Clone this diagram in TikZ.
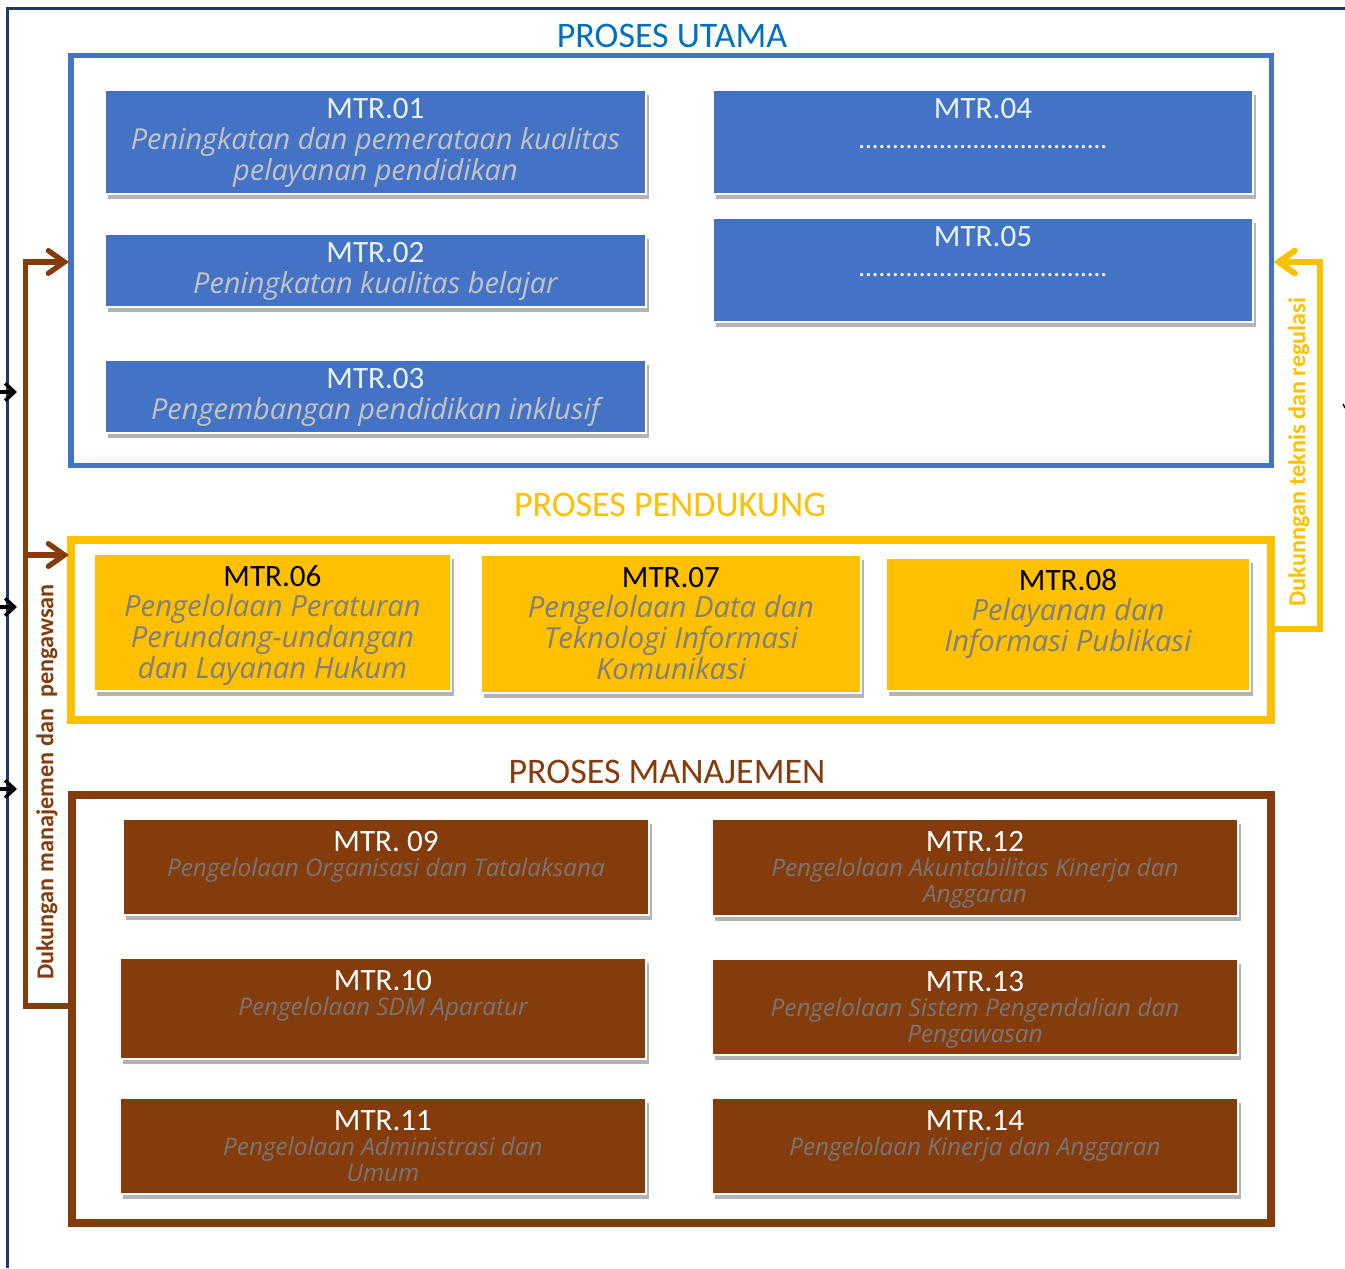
\documentclass[tikz,border=0pt]{standalone}
\usepackage{fontspec}
\setmainfont{Carlito}
\newfontfamily\subfam{Open Sans}
\usetikzlibrary{arrows.meta,shadows,fit}
\definecolor{bblue}{HTML}{4472C4}
\definecolor{hblue}{HTML}{0070C0}
\definecolor{gold}{HTML}{FFC000}
\definecolor{rust}{HTML}{843C0C}
\definecolor{navy}{HTML}{1F3864}
\definecolor{paleblue}{HTML}{E6F4FF}
\definecolor{lgray}{HTML}{C3C3C3}
\definecolor{mgray}{HTML}{7F7F7F}
\definecolor{dgray}{HTML}{7A7575}
\begin{document}
\begin{tikzpicture}[x=0.75pt,y=-0.75pt,
  boxbase/.style={inner sep=0pt, outer sep=0pt, draw=white, line width=0.8pt,
    drop shadow={shadow xshift=2.5pt, shadow yshift=-4pt, opacity=0.4, fill=black!75}},
  bluebox/.style={boxbase, fill=bblue},
  goldbox/.style={boxbase, fill=gold},
  rustbox/.style={boxbase, fill=rust},
  framebox/.style={inner sep=0pt, outer sep=0pt, fill=none},
  ttl/.style={anchor=base, inner sep=0pt, font=\fontsize{23.3}{28}\selectfont},
  ttlB/.style={ttl, text=paleblue},
  ttlG/.style={ttl, text=black},
  ttlR/.style={ttl, text=white},
  subB/.style={anchor=base, inner sep=0pt, align=center, text=lgray, font=\subfam\itshape\fontsize{21.7}{23.25}\selectfont},
  subG/.style={anchor=base, inner sep=0pt, align=center, text=mgray, font=\subfam\itshape\fontsize{21.9}{22.9}\selectfont},
  subR/.style={anchor=base, inner sep=0pt, align=center, text=dgray, font=\subfam\itshape\fontsize{18.2}{19.5}\selectfont},
  dots/.style={anchor=base, inner sep=0pt, text=white, font=\fontsize{20}{24}\selectfont},
  head/.style={anchor=base, inner sep=0pt, font=\fontsize{27}{32}\selectfont},
  side/.style={rotate=90, inner sep=0pt, font=\bfseries\fontsize{18.2}{21}\selectfont},
  brownline/.style={draw=rust, line width=4pt, line join=miter},
  goldline/.style={draw=gold, line width=4.6pt, line join=miter},
  btip/.style={-{Straight Barb[length=12pt,width=17pt,line cap=round]}, shorten >=1.5pt},
  ktip/.style={-{Straight Barb[length=7pt,width=13pt]}},
]
\useasboundingbox (0,0) rectangle (1345,1268);

% outer navy lines
\coordinate (nTop) at (1345,8.5);
\coordinate (nCorner) at (7.5,8.5);
\coordinate (nBot) at (7.5,1268);
\draw[navy, line width=1.8pt] (nBot) -- (nCorner) -- (nTop);

% incoming black arrows at left edge
\coordinate (k1s) at (-6,392);  \coordinate (k1e) at (17,392);
\coordinate (k2s) at (-6,607);  \coordinate (k2e) at (17,607);
\coordinate (k3s) at (-6,789);  \coordinate (k3e) at (17,789);
\draw[black, line width=2.6pt, ktip] (k1s) -- (k1e);
\draw[black, line width=2.6pt, ktip] (k2s) -- (k2e);
\draw[black, line width=2.6pt, ktip] (k3s) -- (k3e);
\coordinate (tk1) at (1343,404); \coordinate (tk2) at (1345,408);
\draw[black, line width=1pt] (tk1) -- (tk2);

% frames
\node[framebox, draw=bblue, line width=3.8pt, fit={(71,55.5)(1271.5,465.5)}] (fU) {};
\node[framebox, draw=gold, line width=6pt, fit={(71,540)(1271,719.5)}] (fP) {};
\node[framebox, draw=rust, line width=6pt, fit={(71.5,794.5)(1271,1223)}] (fM) {};

% headers
\node[head, text=hblue] (hU) at (672,47.5) {PROSES UTAMA};
\node[head, text=gold] (hP) at (670,516.5) {PROSES PENDUKUNG};
\node[head, text=rust] (hM) at (667,783.5) {PROSES MANAJEMEN};

% connectors
\coordinate (bx) at (25.5,600);
\coordinate (by) at (1320,450);
\draw[brownline, btip] (fM.west |- 0,1006) -| (bx) |- (fU.west |- 0,262);
\draw[brownline, btip] (bx |- 0,555) -- (fP.west |- 0,555);
\draw[goldline, btip] (fP.east |- 0,629) -| (by) |- (fU.east |- 0,262);
\node[side, text=rust] (lM) at (47,782) {Dukungan manajemen dan\ \ pengawsan};
\node[side, text=gold] (lP) at (1299,452) {Dukunngan teknis dan regulasi};

% PROSES UTAMA boxes
\node[bluebox, fit={(105,90)(646,194)}] (m01) {};
\node[ttlB] (m01t) at (m01.north |- 0,118) {MTR.01};
\node[subB] (m01s) at (m01.north |- 0,180) {Peningkatan dan pemerataan kualitas\\pelayanan pendidikan};

\node[bluebox, fit={(105,234)(646,307)}] (m02) {};
\node[ttlB] (m02t) at (m02.north |- 0,262) {MTR.02};
\node[subB] (m02s) at (m02.north |- 0,293) {Peningkatan kualitas belajar};

\node[bluebox, fit={(105,360)(646,433)}] (m03) {};
\node[ttlB] (m03t) at (m03.north |- 0,388) {MTR.03};
\node[subB] (m03s) at (m03.north |- 0,419) {Pengembangan pendidikan inklusif};

\node[bluebox, fit={(713,90)(1253,194)}] (m04) {};
\node[ttlB] (m04t) at (m04.north |- 0,118) {MTR.04};
\node[dots] (m04s) at (m04.north |- 0,148) {.....................................};

\node[bluebox, fit={(713,218)(1253,322)}] (m05) {};
\node[ttlB] (m05t) at (m05.north |- 0,246) {MTR.05};
\node[dots] (m05s) at (m05.north |- 0,276) {.....................................};

% PROSES PENDUKUNG boxes
\node[goldbox, fit={(94,554)(451,691)}] (m06) {};
\node[ttlG] (m06t) at (m06.north |- 0,586) {MTR.06};
\node[subG] (m06s) at (m06.north |- 0,678) {Pengelolaan Peraturan\\Perundang-undangan\\dan Layanan Hukum};

\node[goldbox, fit={(481,555)(861,693)}] (m07) {};
\node[ttlG] (m07t) at (m07.north |- 0,587) {MTR.07};
\node[subG] (m07s) at (m07.north |- 0,679) {Pengelolaan Data dan\\Teknologi Informasi\\Komunikasi};

\node[goldbox, fit={(886,558)(1250,691)}] (m08) {};
\node[ttlG] (m08t) at (m08.north |- 0,590) {MTR.08};
\node[subG] (m08s) at (m08.north |- 0,651) {Pelayanan dan\\Informasi Publikasi};

% PROSES MANAJEMEN boxes
\node[rustbox, fit={(123,819)(649,915)}] (m09) {};
\node[ttlR] (m09t) at (m09.north |- 0,851) {MTR. 09};
\node[subR] (m09s) at (m09.north |- 0,876) {Pengelolaan Organisasi dan Tatalaksana};

\node[rustbox, fit={(120,958)(646,1059)}] (m10) {};
\node[ttlR] (m10t) at (m10.north |- 0,990) {MTR.10};
\node[subR] (m10s) at (m10.north |- 0,1015) {Pengelolaan SDM Aparatur};

\node[rustbox, fit={(120,1098)(646,1194)}] (m11) {};
\node[ttlR] (m11t) at (m11.north |- 0,1130) {MTR.11};
\node[subR] (m11s) at (m11.north |- 0,1181) {Pengelolaan Administrasi dan\\Umum};

\node[rustbox, fit={(712,819)(1238,916)}] (m12) {};
\node[ttlR] (m12t) at (m12.north |- 0,851) {MTR.12};
\node[subR] (m12s) at (m12.north |- 0,902) {Pengelolaan Akuntabilitas Kinerja dan\\Anggaran};

\node[rustbox, fit={(712,959)(1238,1055)}] (m13) {};
\node[ttlR] (m13t) at (m13.north |- 0,991) {MTR.13};
\node[subR] (m13s) at (m13.north |- 0,1042) {Pengelolaan Sistem Pengendalian dan\\Pengawasan};

\node[rustbox, fit={(712,1098)(1238,1194)}] (m14) {};
\node[ttlR] (m14t) at (m14.north |- 0,1130) {MTR.14};
\node[subR] (m14s) at (m14.north |- 0,1155) {Pengelolaan Kinerja dan Anggaran};
\end{tikzpicture}
\end{document}
